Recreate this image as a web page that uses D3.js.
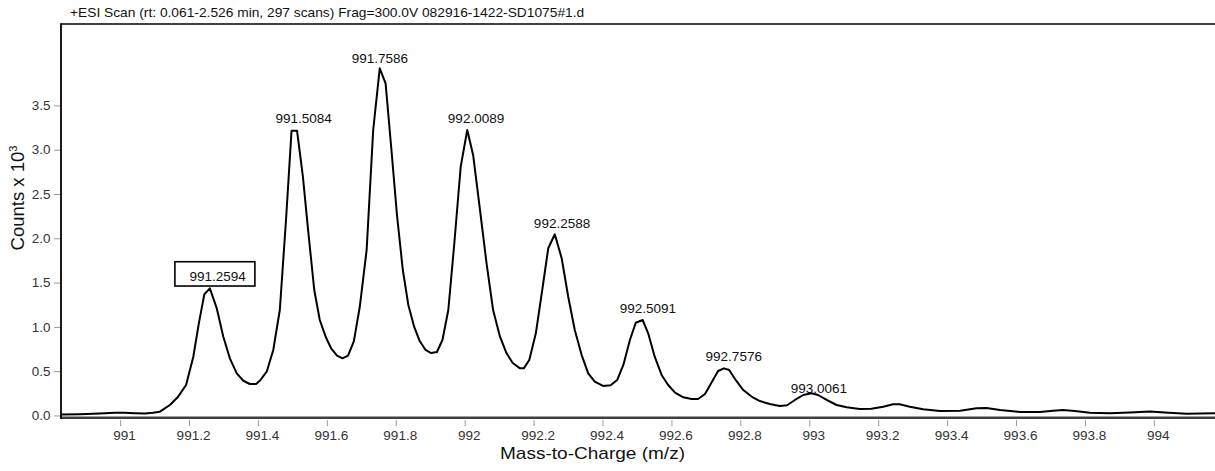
<!DOCTYPE html>
<html><head><meta charset="utf-8">
<script src="https://cdn.jsdelivr.net/npm/d3@7/dist/d3.min.js"></script>
<style>
html,body{margin:0;padding:0;background:#fff;}
svg{display:block;font-family:Arial,"Liberation Sans",sans-serif;}
</style></head>
<body>
<svg id="chart" width="1215" height="471"></svg>
<script>
// ---- data (m/z, counts x 10^3) ----
const mz = [990.827,990.882,990.940,990.983,991.012,991.042,991.071,991.094,991.114,991.143,
991.167,991.190,991.211,991.227,991.243,991.259,991.279,991.298,991.317,991.337,
991.356,991.375,991.393,991.404,991.424,991.443,991.462,991.480,991.496,991.512,
991.529,991.545,991.562,991.578,991.595,991.611,991.628,991.644,991.660,991.677,
991.694,991.714,991.733,991.752,991.769,991.786,991.802,991.819,991.835,991.852,
991.868,991.885,991.901,991.918,991.934,991.951,991.968,991.987,992.006,992.023,
992.043,992.062,992.081,992.101,992.120,992.138,992.159,992.170,992.186,992.205,
992.225,992.241,992.260,992.280,992.299,992.318,992.338,992.357,992.376,992.400,
992.422,992.441,992.459,992.478,992.495,992.515,992.531,992.550,992.570,992.589,
992.609,992.633,992.657,992.676,992.696,992.715,992.734,992.751,992.766,992.786,
992.807,992.831,992.855,992.884,992.913,992.934,992.957,992.981,993.005,993.024,
993.049,993.078,993.107,993.145,993.179,993.213,993.242,993.261,993.290,993.329,
993.378,993.436,993.484,993.513,993.552,993.610,993.668,993.706,993.735,993.769,
993.813,993.871,993.929,993.987,994.030,994.093,994.176];
const counts = [0.017,0.020,0.028,0.036,0.037,0.032,0.028,0.036,0.049,0.124,
0.218,0.350,0.669,1.046,1.374,1.441,1.216,0.895,0.651,0.482,
0.398,0.361,0.361,0.398,0.500,0.745,1.196,2.212,3.220,3.220,
2.701,2.065,1.422,1.084,0.895,0.764,0.681,0.651,0.681,0.846,
1.230,1.874,3.228,3.924,3.755,3.002,2.269,1.648,1.253,1.005,
0.846,0.745,0.711,0.722,0.858,1.196,1.930,2.814,3.228,2.946,
2.325,1.723,1.196,0.895,0.708,0.598,0.538,0.538,0.632,0.933,
1.459,1.893,2.051,1.780,1.346,0.971,0.688,0.482,0.387,0.339,
0.346,0.406,0.576,0.858,1.053,1.084,0.933,0.669,0.463,0.350,
0.263,0.211,0.192,0.192,0.248,0.378,0.508,0.538,0.519,0.401,
0.293,0.220,0.169,0.135,0.113,0.121,0.181,0.237,0.256,0.237,
0.181,0.124,0.098,0.079,0.082,0.105,0.132,0.132,0.105,0.076,
0.056,0.060,0.087,0.090,0.068,0.045,0.045,0.060,0.068,0.056,
0.037,0.030,0.040,0.051,0.040,0.026,0.030];
const peakLabels = ["991.2594","991.5084","991.7586","992.0089","992.2588","992.5091","992.7576","993.0061"];
const peakMz = [991.2594,991.5084,991.7586,992.0089,992.2588,992.5091,992.7576,993.0061];
const boxedLabel = "991.2594";
const xTicks = [991,991.2,991.4,991.6,991.8,992,992.2,992.4,992.6,992.8,993,993.2,993.4,993.6,993.8,994];
const yTicks = [0,0.5,1,1.5,2,2.5,3,3.5];
const titleText = "+ESI Scan (rt: 0.061-2.526 min, 297 scans) Frag=300.0V 082916-1422-SD1075#1.d";
const xTitle = "Mass-to-Charge (m/z)";

// ---- layout / style ----
const SX = 1.12; // horizontal stretch of the original image's text
const labelDx = [7.6,7.8,-2.1,7.8,7.7,7.3,7.5,7.0];
const labelDy = [-7.6,-7.4,-5.6,-7.3,-6.6,-7.3,-7.3,-0.6];
const pLeft = 61, pRight = 1215, pTop = 24, pBottom = 417.7;

const svg = d3.select("#chart");
const x = d3.scaleLinear().domain([990.827, 994.176]).range([pLeft, pRight]);
const y = d3.scaleLinear().domain([-0.0192, 4.4244]).range([pBottom, pTop]);

function addText(parent, tx, ty, size, anchor, str, fill){
  return parent.append("text")
    .attr("transform",`translate(${tx},${ty}) scale(${SX},1)`)
    .attr("text-anchor",anchor).attr("font-size",size).attr("fill",fill||"#111").text(str);
}

svg.append("defs").append("clipPath").attr("id","clip")
  .append("rect").attr("x",pLeft).attr("y",pTop).attr("width",pRight-pLeft).attr("height",bottomH());
function bottomH(){ return pBottom-pTop; }

// title
addText(svg, 70, 17, 12.3, "start", titleText);

// top border
svg.append("line").attr("x1",pLeft).attr("x2",pRight).attr("y1",pTop).attr("y2",pTop)
  .attr("stroke","#000").attr("stroke-width",1.6);

// spectrum line
const data = mz.map((m,i)=>({m, c:counts[i]}));
svg.append("path").datum(data).attr("clip-path","url(#clip)")
  .attr("fill","none").attr("stroke","#000").attr("stroke-width",2).attr("stroke-linejoin","round")
  .attr("d", d3.line().x(d=>x(d.m)).y(d=>y(d.c)).curve(d3.curveLinear));

// x axis
const gx = svg.append("g").attr("transform",`translate(0,${pBottom})`);
gx.append("line").attr("x1",pLeft).attr("x2",pRight).attr("stroke","#404040").attr("stroke-width",2.4);
xTicks.forEach(t=>{
  gx.append("line").attr("x1",x(t)).attr("x2",x(t)).attr("y1",2.5).attr("y2",8.5).attr("stroke","#999").attr("stroke-width",1);
  addText(gx, x(t)+4, 22.5, 12.1, "middle", d3.format("~f")(t), "#333");
});
addText(svg, 592.5, 459, 17, "middle", xTitle);

// y axis
const gy = svg.append("g");
gy.append("line").attr("x1",pLeft).attr("x2",pLeft).attr("y1",pTop-0.8).attr("y2",pBottom+1.2).attr("stroke","#000").attr("stroke-width",1.8);
yTicks.forEach(t=>{
  gy.append("line").attr("x1",54).attr("x2",60).attr("y1",y(t)).attr("y2",y(t)).attr("stroke","#999").attr("stroke-width",1);
  addText(gy, 50.5, y(t)+4.2, 12, "end", d3.format(".1f")(t), "#333");
});
const yt = svg.append("text").attr("transform","translate(23.5,198) rotate(-90)").attr("text-anchor","middle")
  .attr("font-size",18.5).attr("fill","#111");
yt.append("tspan").text("Counts x 10");
yt.append("tspan").attr("font-size",11).attr("dy",-7).text("3");

// peak labels
peakMz.forEach((pm,i)=>{
  const near = data.filter(d=>Math.abs(d.m-pm)<0.03);
  const h = d3.max(near,d=>d.c);
  const cx = x(pm)+labelDx[i], by = y(h)+labelDy[i];
  if (peakLabels[i]===boxedLabel){
    svg.append("rect").attr("x",cx-42.7).attr("y",by-19).attr("width",80).attr("height",24.3)
      .attr("fill","#fff").attr("stroke","#000").attr("stroke-width",1.6);
  }
  addText(svg, cx, by, 12.1, "middle", peakLabels[i]);
});
</script>
</body></html>
